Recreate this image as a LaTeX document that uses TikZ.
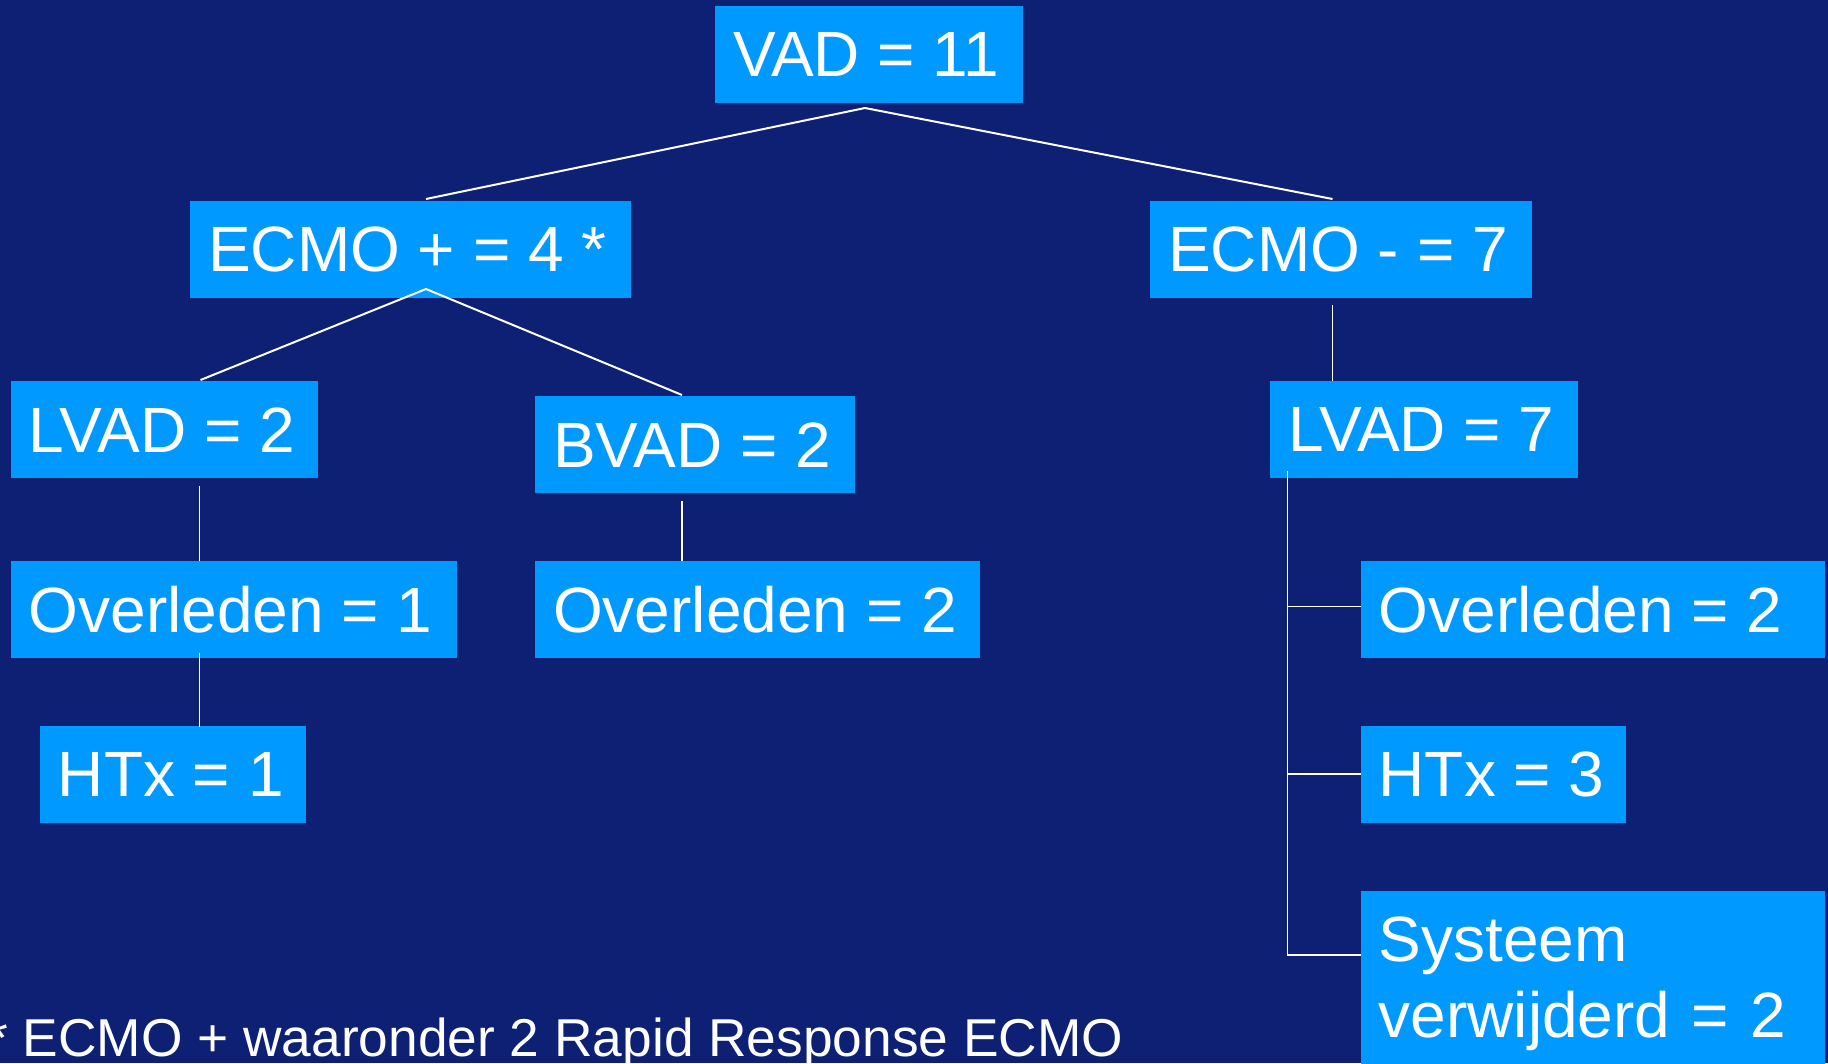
\documentclass[tikz,border=0pt]{standalone}
\usepackage{fontspec}
\setmainfont{Liberation Sans}
\definecolor{bgnavy}{RGB}{13,32,115}
\definecolor{boxblue}{RGB}{0,153,255}
\newcommand\linetxt[2]{\makebox[#1pt][l]{#2}}
\begin{document}
\begin{tikzpicture}[x=1pt,y=-1pt,
  box/.style={fill=boxblue, text=white, anchor=north west, inner xsep=18pt, inner ysep=0pt,
    minimum height=97pt, font=\fontsize{64}{76}\selectfont},
  diag/.style={draw=white, line width=2pt},
  link/.style={draw=white, line width=1.5pt},
  notetxt/.style={anchor=base west, text=white, inner sep=0pt, font=\fontsize{53.3}{62}\selectfont}]
\useasboundingbox (0,0) rectangle (1828,1063);
\clip (0,0) rectangle (1828,1063);
\fill[bgnavy] (0,0) rectangle (1828,1063);

% boxes
\node[box] (vad)   at (715,6)      {\linetxt{272}{VAD = 11}};
\node[box] (ecmop) at (190,201)    {\linetxt{405}{ECMO + = 4 *}};
\node[box] (ecmom) at (1150,201)   {\linetxt{346}{ECMO - = 7}};
\node[box] (lvadA) at (10.5,381)   {\linetxt{271.5}{LVAD = 2}};
\node[box] (bvad)  at (535,396)    {\linetxt{284}{BVAD = 2}};
\node[box] (lvadB) at (1270,381)   {\linetxt{272}{LVAD = 7}};
\node[box] (ovA)   at (10.5,561)   {\linetxt{410}{Overleden = 1}};
\node[box] (ovB)   at (535,561)    {\linetxt{409}{Overleden = 2}};
\node[box] (ovC)   at (1360.5,561) {\linetxt{428}{Overleden = 2}};
\node[box] (htxA)  at (39.6,726)   {\linetxt{230}{HTx = 1}};
\node[box] (htxB)  at (1360.5,726) {\linetxt{229.5}{HTx = 3}};
\node[box, minimum height=0pt, inner ysep=26pt, text width=428pt, align=left] (sys) at (1360.5,891)
  {Systeem\\verwijderd = 2};

% connector points
\coordinate (apexA) at (865,108);
\coordinate (ecmopT) at (426,199);
\coordinate (ecmomT) at (1332.5,199);
\coordinate (apexB) at (426,289);
\coordinate (lvadAT) at (200.5,380);
\coordinate (bvadT) at (682,395);
\coordinate (ecmomB) at (1332.7,305);
\coordinate (lvadBT) at (1332.7,381);
\coordinate (lvadAB) at (199.5,486);
\coordinate (ovAT) at (199.5,561);
\coordinate (bvadB) at (682,501);
\coordinate (ovBT) at (682,561);
\coordinate (ovAB) at (199.5,652.7);
\coordinate (htxAT) at (199.5,727);
\coordinate (trunkT) at (1287.7,471);
\coordinate (trunkC) at (1287.7,606.6);
\coordinate (trunkH) at (1287.7,773.8);
\coordinate (trunkS) at (1287.7,955);

% connectors
\draw[diag] (ecmopT) -- (apexA) -- (ecmomT);
\draw[diag] (lvadAT) -- (apexB) -- (bvadT);
\draw[link] (ecmomB) -- (lvadBT);
\draw[link] (lvadAB) -- (ovAT);
\draw[link] (bvadB) -- (ovBT);
\draw[link] (ovAB) -- (htxAT);
\draw[link] (trunkT) -- (trunkS) -- (trunkS -| sys.west);
\draw[link] (trunkC) -- (trunkC -| ovC.west);
\draw[link] (trunkH) -- (trunkH -| htxB.west);

% footnote
\node[notetxt] (note) at (-13,1056) {* ECMO + waaronder 2 Rapid Response ECMO};
\end{tikzpicture}
\end{document}
